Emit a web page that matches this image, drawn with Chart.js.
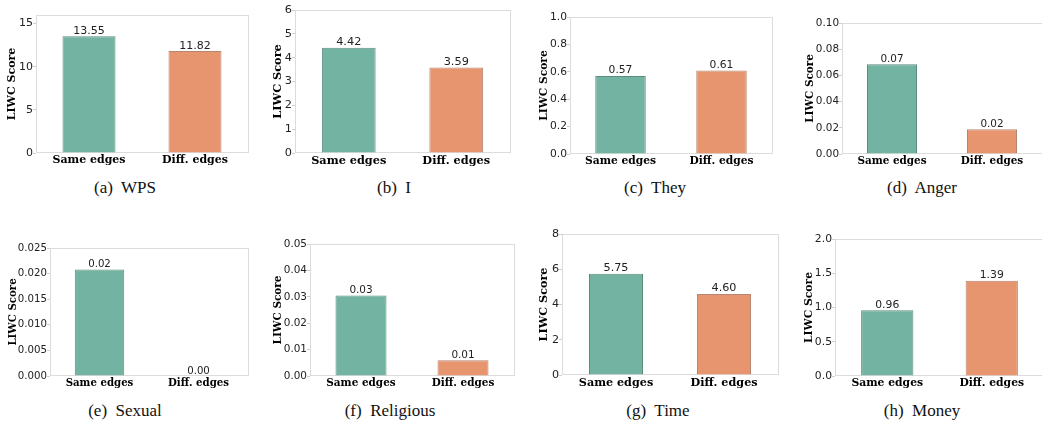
<!DOCTYPE html>
<html>
<head>
<meta charset="utf-8">
<script src="https://cdn.jsdelivr.net/npm/chart.js@4.4.1/dist/chart.umd.min.js"></script>
<style>
  html, body { margin: 0; padding: 0; background: #fff; }
  body { width: 1042px; height: 428px; position: relative; overflow: hidden; }
  canvas { position: absolute; }
  .cap {
    position: absolute; width: 200px; margin-left: -100px; text-align: center;
    font-family: "Liberation Serif", "DejaVu Serif", serif; font-size: 17px; color: #111;
    white-space: pre;
  }
</style>
</head>
<body>
<script>
// data
const categories = ["Same edges", "Diff. edges"];
const panelNames = ["(a)  WPS", "(b)  I", "(c)  They", "(d)  Anger", "(e)  Sexual", "(f)  Religious", "(g)  Time", "(h)  Money"];
const sameEdges = [13.55, 4.42, 0.57, 0.0685, 0.0208, 0.0305, 5.75, 0.96];
const diffEdges = [11.82, 3.59, 0.61, 0.0188, 0.0, 0.006, 4.60, 1.39];
const yMax = [16, 6, 1.0, 0.10, 0.025, 0.05, 8, 2.0];
const yTicks = [
  [0, 5, 10, 15],
  [0, 1, 2, 3, 4, 5, 6],
  [0, 0.2, 0.4, 0.6, 0.8, 1.0],
  [0, 0.02, 0.04, 0.06, 0.08, 0.10],
  [0, 0.005, 0.010, 0.015, 0.020, 0.025],
  [0, 0.01, 0.02, 0.03, 0.04, 0.05],
  [0, 2, 4, 6, 8],
  [0, 0.5, 1.0, 1.5, 2.0],
];
const tickDecimals = [0, 0, 1, 2, 3, 2, 0, 1];

// layout: plot left, top, right, bottom, y-title x, caption x, caption y, font scale
const boxes = [
  [36, 15, 248, 153, 13, 125, 189, 1.0],
  [295, 10, 510, 153, 278, 394, 189, 1.027],
  [570, 17, 772, 154, 544, 655, 189, 0.973],
  [842, 23, 1042, 154, 810, 922, 189, 0.946],
  [50, 248, 248, 376, 13, 125, 412, 0.927],
  [310, 244, 514, 376, 278, 390, 412, 0.95],
  [562, 234, 778, 375, 544, 658, 412, 1.018],
  [835, 239, 1044, 376, 809, 922, 412, 0.981],
];

const colors = ["#73b3a2", "#e6956f"];
const edgeColors = ["#5b8c7e", "#b58572"];
const BASE = 11;

const framePlugin = {
  id: "frame",
  beforeDatasetsDraw(chart) {
    const { ctx, chartArea: a } = chart;
    ctx.save();
    ctx.strokeStyle = "#dcdcdc";
    ctx.lineWidth = 1;
    ctx.strokeRect(Math.round(a.left) + 0.5, Math.round(a.top) + 0.5,
      Math.round(a.right - a.left), Math.round(a.bottom - a.top) - 1);
    ctx.restore();
  },
};

const valuePlugin = {
  id: "values",
  afterDatasetsDraw(chart, args, opts) {
    const { ctx } = chart;
    const meta = chart.getDatasetMeta(0);
    const vals = chart.data.datasets[0].data;
    ctx.save();
    ctx.font = opts.size + "px 'DejaVu Sans'";
    ctx.fillStyle = "#222";
    ctx.textAlign = "center";
    ctx.textBaseline = "alphabetic";
    meta.data.forEach((bar, i) => {
      ctx.fillText(vals[i].toFixed(2), bar.x, bar.y - 2.5);
    });
    ctx.restore();
  },
};

const PAD_TOP = 12;
const X_H = 22;

boxes.forEach((b, i) => {
  const [pl, pt, pr, pb, tx, cx, cy, sc] = b;
  const fs = +(BASE * sc).toFixed(2);
  const left = Math.round(tx - fs * 0.6);
  const top = pt - PAD_TOP;
  const yw = pl - left;
  const w = pr - left + 2;
  const h = pb - top + X_H;

  const cv = document.createElement("canvas");
  cv.width = w;
  cv.height = h;
  cv.style.left = left + "px";
  cv.style.top = top + "px";
  cv.style.width = w + "px";
  cv.style.height = h + "px";
  document.body.appendChild(cv);

  const cap = document.createElement("div");
  cap.className = "cap";
  cap.textContent = panelNames[i];
  cap.style.left = cx + "px";
  cap.style.top = (cy - 11) + "px";
  document.body.appendChild(cap);

  new Chart(cv.getContext("2d"), {
    type: "bar",
    data: {
      labels: categories,
      datasets: [{
        data: [sameEdges[i], diffEdges[i]],
        backgroundColor: colors,
        borderColor: edgeColors,
        borderWidth: 1,
        categoryPercentage: 1,
        barPercentage: 0.5,
      }],
    },
    options: {
      responsive: false,
      animation: false,
      devicePixelRatio: 1,
      layout: { padding: { top: PAD_TOP, right: 2, left: 0, bottom: 0 } },
      plugins: {
        legend: { display: false },
        tooltip: { enabled: false },
        values: { size: fs },
      },
      scales: {
        x: {
          offset: true,
          grid: { display: false, drawTicks: false },
          border: { display: false },
          ticks: {
            color: "#000",
            padding: 1,
            maxRotation: 0,
            font: { family: "DejaVu Serif", weight: "bold", size: fs },
          },
          afterFit(s) { s.height = X_H; },
        },
        y: {
          min: 0,
          max: yMax[i],
          grid: { drawOnChartArea: false, drawTicks: true, tickLength: 3, color: "#cfcfcf" },
          border: { display: false },
          title: {
            display: true,
            text: "LIWC Score",
            color: "#000",
            padding: { top: 0, bottom: 0 },
            font: { family: "DejaVu Serif", weight: "bold", size: fs },
          },
          ticks: {
            color: "#222",
            padding: 0,
            font: { family: "DejaVu Sans", size: fs },
            callback: (v) => Number(v).toFixed(tickDecimals[i]),
          },
          afterBuildTicks(s) { s.ticks = yTicks[i].map((v) => ({ value: v })); },
          afterFit(s) { s.width = yw; },
        },
      },
    },
    plugins: [framePlugin, valuePlugin],
  });
});
</script>
</body>
</html>
